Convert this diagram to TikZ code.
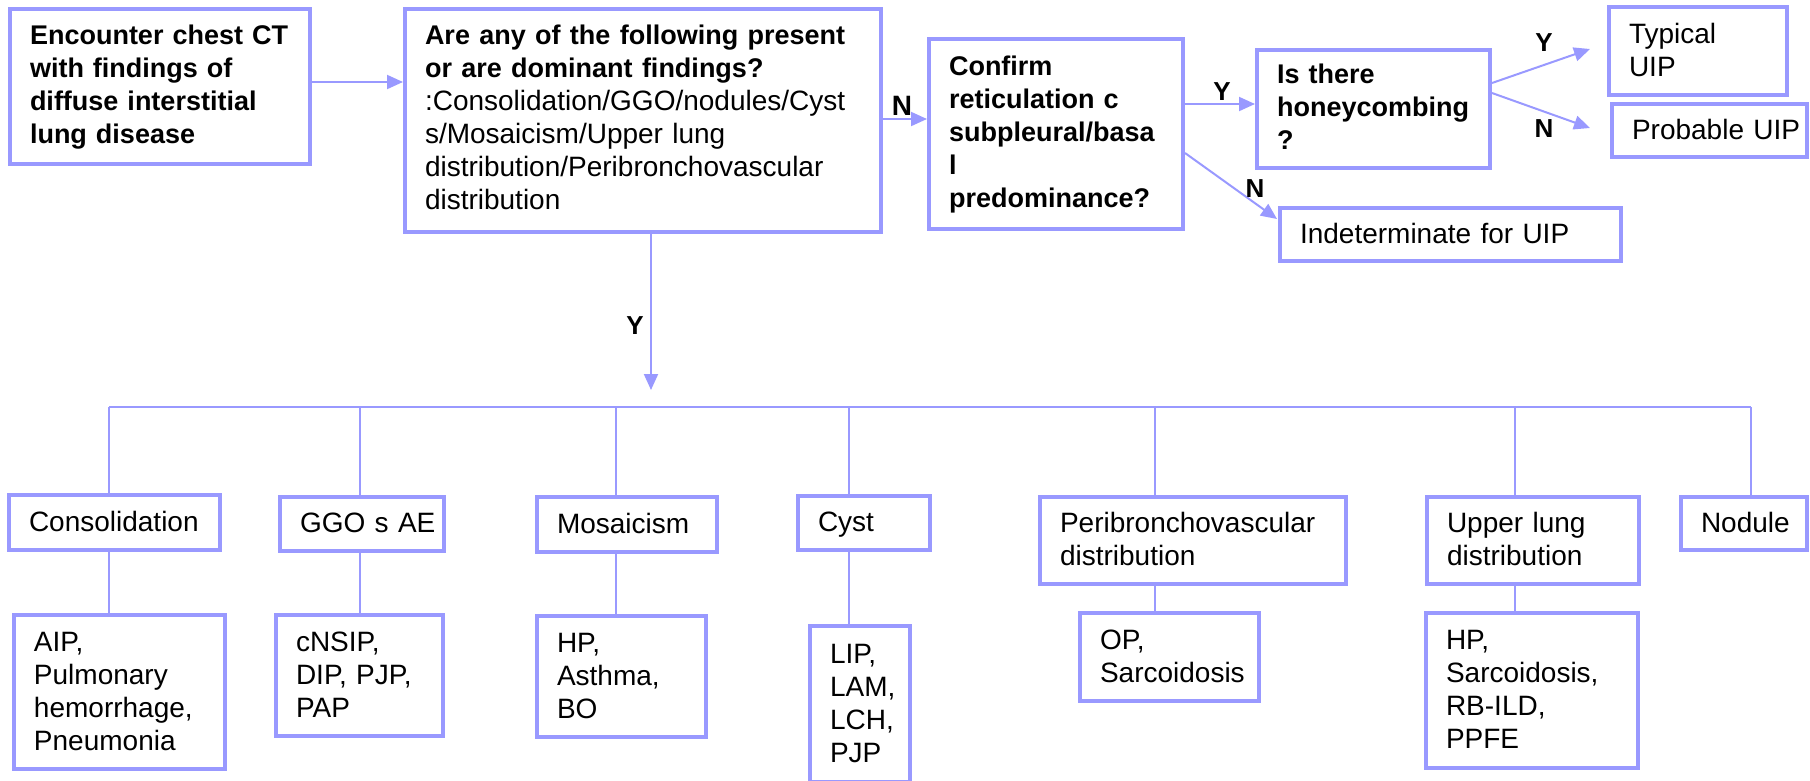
\documentclass[tikz,border=0pt]{standalone}
\usepackage{fontspec}
\setmainfont{Liberation Sans}
\usetikzlibrary{arrows.meta,calc}
\definecolor{bc}{HTML}{9999FF}
\newcommand\fs{\fontsize{28}{33}\selectfont}
\newcommand\bsz{\fontsize{27}{33}\selectfont\bfseries}
\newcommand\lbfs{\fontsize{26}{26}\selectfont\bfseries}
\newcommand\bxRule{27.1pt}
\tikzset{
  box/.style={draw=bc,line width=4pt,inner xsep=20pt,inner ysep=0pt,align=left,font=\fs,text=black},
  boldbox/.style={font=\bsz,execute at begin node={\def\bxRule{24.6pt}}},
  conn/.style={draw=bc,line width=2pt},
  arr/.style={conn,-{Triangle[length=16pt,width=14pt]}},
  lbl/.style={font=\lbfs,inner sep=0pt,text=black}
}
\newcommand\mkbox[7][]{%
  \pgfmathsetmacro\bxTW{#5-#3-40}%
  \pgfmathsetmacro\bxBH{#6-#4}%
  \pgfmathsetmacro\bxCX{(#3+#5)/2}%
  \pgfmathsetmacro\bxCY{(#4+#6)/2}%
  \node[box,#1,text width=\bxTW pt,minimum height=\bxBH pt] (#2) at (\bxCX,\bxCY) {\begin{tabular}{@{}l@{}}\rule{0pt}{\bxRule}#7\end{tabular}};}
\begin{document}
\begin{tikzpicture}[x=1pt,y=-1pt]
\useasboundingbox (0,0) rectangle (1810,780);
% top row
\mkbox[boldbox]{b1}{10}{9}{310}{164}{Encounter chest CT\\with findings of\\diffuse interstitial\\lung disease}
\mkbox[execute at begin node={\def\bxRule{23.6pt}}]{b2}{405}{9}{881}{232}{\bsz Are any of the following present\\\bsz or are dominant findings?\\:Consolidation/GGO/nodules/Cyst\\s/Mosaicism/Upper lung\\distribution/Peribronchovascular\\distribution}
\mkbox[boldbox]{b3}{929}{39}{1183}{229}{Confirm\\reticulation c\\subpleural/basa\\l\\predominance?}
\mkbox[boldbox]{hc}{1257}{50}{1490}{168}{Is there\\honeycombing\\?}
\mkbox{typ}{1609}{7}{1787}{95}{Typical\\UIP}
\mkbox{prob}{1612}{104}{1807}{157}{Probable UIP}
\mkbox{ind}{1280}{208}{1621}{261}{Indeterminate for UIP}
% categories
\mkbox{cons}{9}{495}{220}{550}{Consolidation}
\mkbox{ggo}{280}{497}{444}{551}{GGO s AE}
\mkbox{mos}{537}{497}{717}{552}{Mosaicism}
\mkbox{cyst}{798}{496}{930}{550}{Cyst}
\mkbox{peri}{1040}{497}{1346}{584}{Peribronchovascular\\distribution}
\mkbox{upper}{1427}{497}{1639}{584}{Upper lung\\distribution}
\mkbox{nod}{1681}{497}{1807}{550}{Nodule}
% diagnoses
\mkbox{aip}{14}{615}{225}{769}{AIP,\\Pulmonary\\hemorrhage,\\Pneumonia}
\mkbox{cnsip}{276}{615}{443}{736}{cNSIP,\\DIP, PJP,\\PAP}
\mkbox{hpa}{537}{616}{706}{737}{HP,\\Asthma,\\BO}
\mkbox{lip}{810}{626}{910}{782}{LIP,\\LAM,\\LCH,\\PJP}
\mkbox{op}{1080}{613}{1259}{701}{OP,\\Sarcoidosis}
\mkbox{hpb}{1426}{613}{1638}{768}{HP,\\Sarcoidosis,\\RB-ILD,\\PPFE}
% coordinates
\coordinate (c1) at (109,407);
\coordinate (c2) at (360,407);
\coordinate (c3) at (616,407);
\coordinate (c4) at (849,407);
\coordinate (c5) at (1155,407);
\coordinate (c6) at (1515,407);
\coordinate (c7) at (1751,407);
\coordinate (yt) at (651,390);
\coordinate (ty) at (1590,49);
\coordinate (pr) at (1590,128);
\coordinate (a1) at ($(b1.east)+(0,-4.5)$);
\coordinate (a2) at ($(b2.east)+(0,-1.5)$);
\coordinate (a3) at ($(hc.west)+(0,-5)$);
\coordinate (a4) at ($(hc.east)+(0,-26)$);
\coordinate (a5) at ($(hc.east)+(0,-16)$);
\coordinate (a6) at ($(b3.east)+(0,19)$);
\coordinate (a7) at ($(ind.north west)+(-1,13)$);
% top connectors
\draw[arr] (a1) -- (a1 -| b2.west);
\draw[arr] (a2) -- (a2 -| b3.west);
\draw[arr] (a3 -| b3.east) -- (a3);
\draw[arr] (a4) -- (ty);
\draw[arr] (a5) -- (pr);
\draw[arr] (a6) -- (a7);
\draw[arr] (b2.south -| yt) -- (yt);
% labels
\node[lbl,font=\fontsize{28}{28}\selectfont\bfseries] (ln1) at (902,106) {N};
\node[lbl] (ly1) at (1222,92) {Y};
\node[lbl] (ln2) at (1255,189) {N};
\node[lbl] (ly2) at (1544,43) {Y};
\node[lbl] (ln3) at (1544,129) {N};
\node[lbl] (ly3) at (635,326) {Y};
% bus
\draw[conn] (c1) -- (c7);
\foreach \c/\b in {c1/cons,c2/ggo,c3/mos,c4/cyst,c5/peri,c6/upper,c7/nod}
  \draw[conn] (\c) -- (\b.north -| \c);
\foreach \c/\a/\b in {c1/cons/aip,c2/ggo/cnsip,c3/mos/hpa,c4/cyst/lip,c5/peri/op,c6/upper/hpb}
  \draw[conn] (\a.south -| \c) -- (\b.north -| \c);
\end{tikzpicture}
\end{document}
